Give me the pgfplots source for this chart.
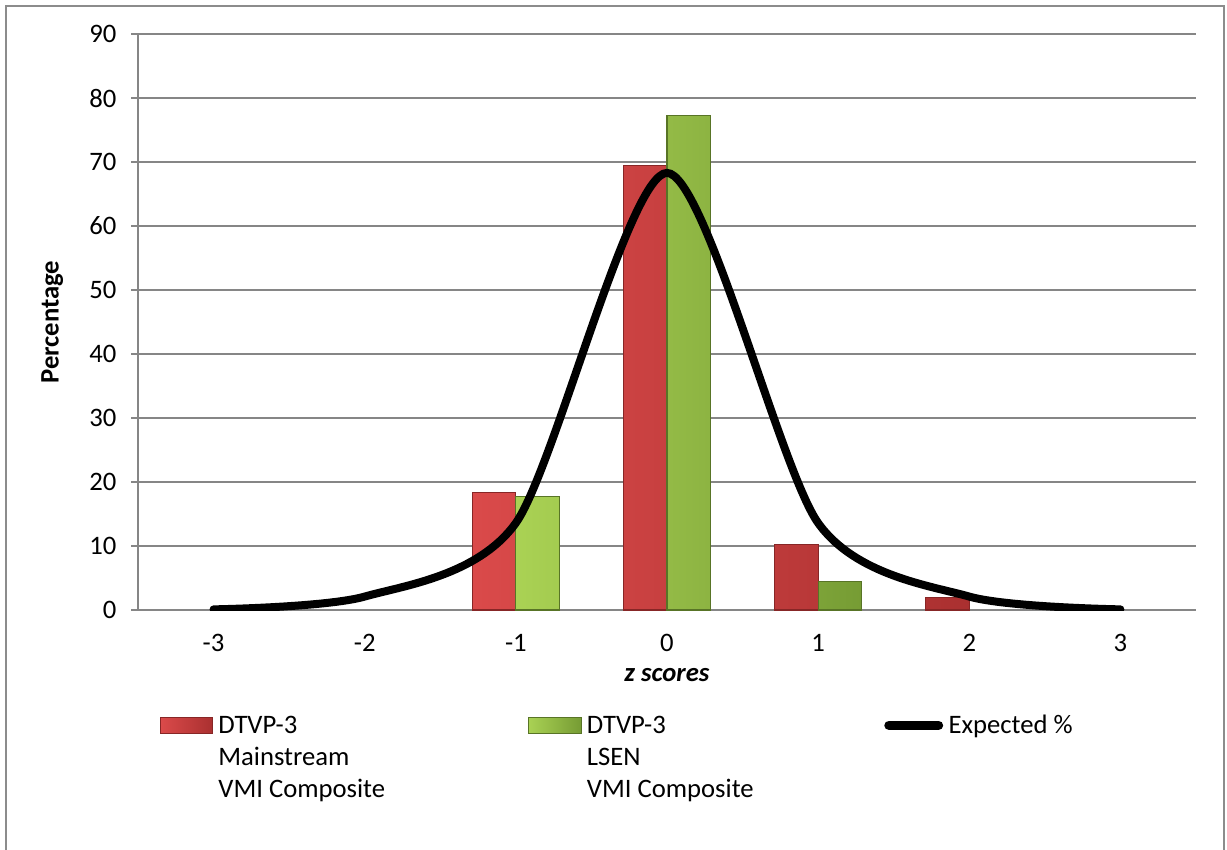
\documentclass[border=0pt]{standalone}
\usepackage{pgfplots}
\pgfplotsset{compat=1.18}
\usepackage{fontspec}
\setmainfont{Carlito}
\definecolor{gridgray}{RGB}{134,134,134}
\definecolor{frame}{RGB}{140,140,140}
\definecolor{redL}{RGB}{218,74,74}
\definecolor{redM}{RGB}{203,62,62}
\definecolor{redR}{RGB}{170,48,48}
\definecolor{redE}{RGB}{135,38,38}
\definecolor{grnL}{RGB}{170,210,84}
\definecolor{grnM}{RGB}{150,192,70}
\definecolor{grnR}{RGB}{118,156,52}
\definecolor{grnE}{RGB}{88,116,38}
\begin{document}
\begin{tikzpicture}
\fontsize{10}{12}\selectfont
\path[use as bounding box] (0pt,0pt) rectangle (460.125pt,-318.75pt);
\draw[frame, line width=0.6pt] (2.25pt,-2.25pt) rectangle (459pt,-340pt);
\begin{axis}[
  at={(51.75pt,-228.75pt)}, anchor=south west,
  scale only axis, width=396.75pt, height=216pt,
  xmin=-3.5, xmax=3.5, ymin=0, ymax=90,
  axis x line*=bottom, axis y line*=left,
  axis line style={gridgray, line width=0.6pt, -},
  xtick={-3,...,3},
  xticklabels={-3,-2,-1,0,1,2,3},
  x tick style={draw=none},
  minor xtick={-3.5,-2.5,...,3.5},
  minor x tick style={gridgray, line width=0.6pt},
  minor tick length=3pt,
  ytick={0,10,...,90},
  y tick style={gridgray, line width=0.6pt},
  major tick length=2.6pt,
  tick align=outside,
  ymajorgrids,
  grid style={gridgray, line width=0.6pt},
  tick label style={font=\fontsize{10}{12}\selectfont},
  /pgf/number format/assume math mode=true,
  x tick label style={yshift=-3pt},
  y tick label style={xshift=-2pt},
  xlabel={\textbf{\textit{z scores}}},
  ylabel={\textbf{Percentage}},
  label style={font=\fontsize{10}{12}\selectfont},
  xlabel style={yshift=0.6pt},
  ylabel style={yshift=2.9pt},
  legend columns=3,
  legend style={at={(0.0208,-0.1660)}, anchor=north west, draw=none, fill=none,
    inner sep=0pt, outer sep=0pt, column sep=0pt, row sep=0pt,
    cells={anchor=base west, inner sep=0pt, outer sep=0pt},
    font=\fontsize{10}{12}\selectfont},
]
\addplot[ybar, bar width=0.288, bar shift=-0.144, draw=redE, line width=0.4pt,
  left color=redL, middle color=redM, right color=redR,
  legend image code/.code={\draw[draw=redE, line width=0.4pt, left color=redL, right color=redR] (0pt,0pt) rectangle (19.5pt,6pt);}]
  coordinates {(-1,18.4) (0,69.4) (1,10.2) (2,2.0)};
\addlegendentry{\begin{tabular}[t]{@{}p{114pt}@{}}DTVP-3\\Mainstream\\VMI Composite\end{tabular}}
\addplot[ybar, bar width=0.288, bar shift=0.144, draw=grnE, line width=0.4pt,
  left color=grnL, middle color=grnM, right color=grnR,
  legend image code/.code={\draw[draw=grnE, line width=0.4pt, left color=grnL, right color=grnR] (0pt,0pt) rectangle (19.8pt,6pt);}]
  coordinates {(-1,17.8) (0,77.2) (1,4.5)};
\addlegendentry{\begin{tabular}[t]{@{}p{109.5pt}@{}}DTVP-3\\LSEN\\VMI Composite\end{tabular}}
\addplot[black, line width=3pt, line cap=round, smooth, tension=0.45,
  legend image code/.code={\draw[black, line width=3.6pt, line cap=round] (1.5pt,3pt) -- (20pt,3pt);}]
  coordinates {(-3,0.1) (-2,2.1) (-1,13.6) (0,68.3) (1,13.6) (2,2.1) (3,0.1)};
\addlegendentry{Expected \%}
\end{axis}
\end{tikzpicture}
\end{document}
